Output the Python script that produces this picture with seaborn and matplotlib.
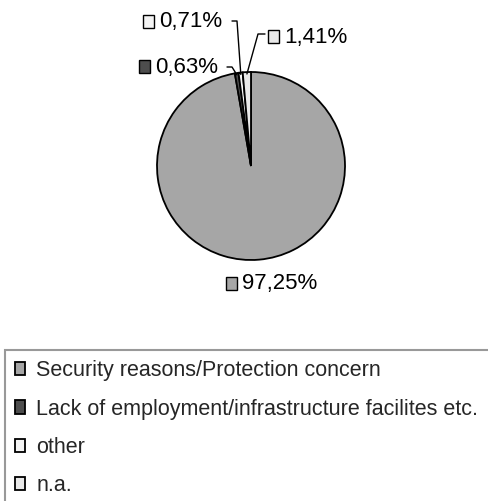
import matplotlib
matplotlib.use("Agg")
import matplotlib.pyplot as plt
from matplotlib.patches import Rectangle
import numpy as np
import seaborn as sns

# Reasons given, share of respondents (%)
categories = [
    "Security reasons/Protection concern",
    "Lack of employment/infrastructure facilites etc.",
    "other",
    "n.a.",
]
shares = [97.25, 0.63, 0.71, 1.41]
colors = ["#A6A6A6", "#4D4D4D", "#F4F4F4", "#E9E9E9"]

sns.set_theme(style="white")
plt.rcParams["font.family"] = ["Liberation Sans", "DejaVu Sans"]

W, H = 489, 501
CX, CY, R = 251, 166, 94  # pie centre and radius in pixels

fig = plt.figure(figsize=(W / 100, H / 100), dpi=100)
ax = fig.add_axes([0, 0, 1, 1])


def P(px, py):
    """pixel position -> data coordinates (pie radius = 1)"""
    return ((px - CX) / R, (CY - py) / R)


wedges, _ = ax.pie(
    shares,
    colors=colors,
    startangle=90,
    counterclock=False,
    radius=1,
    center=(0, 0),
    wedgeprops=dict(edgecolor="black", linewidth=1.3),
)

ax.set_xlim((0 - CX) / R, (W - CX) / R)
ax.set_ylim((CY - H) / R, (CY - 0) / R)
ax.set_aspect("auto")
ax.axis("off")


def pct(v):
    return f"{v:.2f}".replace(".", ",") + "%"


# label layout: (box left, box top) in px, leader elbow points in px
label_layout = {
    0: dict(box=(226, 277), leader=None),
    1: dict(box=(139, 60), leader=[(227, 67), (232, 67)]),
    2: dict(box=(143, 15), leader=[(232, 21), (237, 21)]),
    3: dict(box=(268, 30), leader=[(265, 34), (258, 34)]),
}

cum = np.cumsum([0] + shares)
total = cum[-1]
for i, v in enumerate(shares):
    lay = label_layout[i]
    bx, by = lay["box"]
    bw, bh = 11, 13
    x0, y0 = P(bx, by + bh)
    ax.add_patch(Rectangle((x0, y0), bw / R, bh / R, facecolor=colors[i],
                           edgecolor="black", linewidth=1.0, zorder=5))
    tx, ty = P(bx + bw + 5, by + bh / 2 + 0.5)
    ax.text(tx, ty, pct(v), fontsize=16, ha="left", va="center",
            color="black", zorder=5)
    if lay["leader"] is not None:
        mid = (cum[i] + v / 2) / total * 2 * np.pi
        ex, ey = np.sin(mid) * 0.98, np.cos(mid) * 0.98
        pts = [P(*p) for p in lay["leader"]] + [(ex, ey)]
        xs, ys = zip(*pts)
        ax.plot(xs, ys, color="black", linewidth=1.0, zorder=4)

leg = ax.legend(
    wedges,
    categories,
    loc="upper left",
    bbox_to_anchor=(5 / W, 1 - 350 / H, 490 / W, 0.0),
    bbox_transform=fig.transFigure,
    mode="expand",
    borderaxespad=0,
    frameon=True,
    fancybox=False,
    edgecolor="#808080",
    fontsize=15.5,
    handlelength=0.47,
    handleheight=0.56,
    handletextpad=0.5,
    labelspacing=0.8,
    borderpad=0.48,
)
leg.get_frame().set_linewidth(1.5)
leg.get_frame().set_facecolor("white")

fig.savefig("out.png", dpi=100)
